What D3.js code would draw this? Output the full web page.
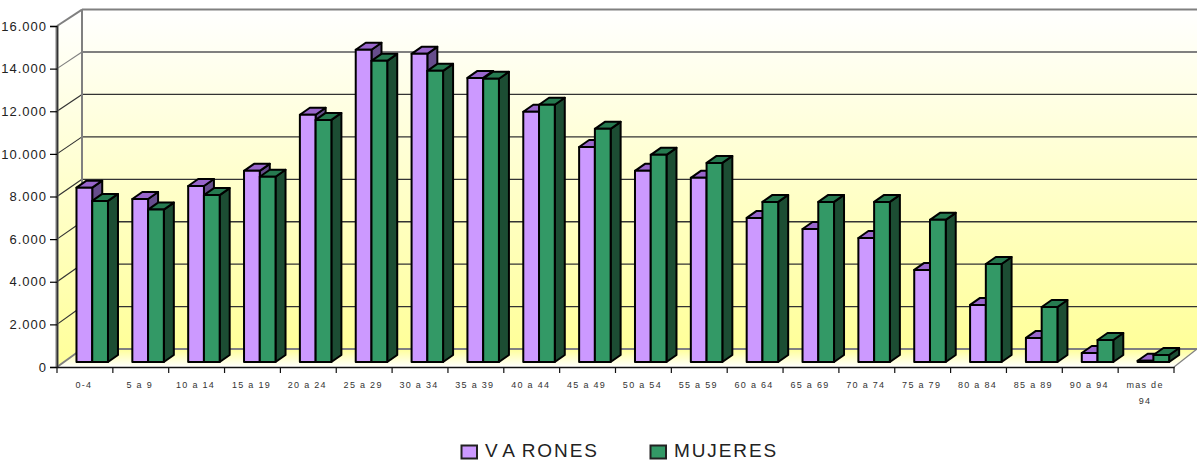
<!DOCTYPE html>
<html><head><meta charset="utf-8">
<script src="https://cdn.jsdelivr.net/npm/d3@7/dist/d3.min.js"></script>
<style>html,body{margin:0;padding:0;background:#fff;overflow:hidden}svg{display:block}
text{font-family:"Liberation Sans",Arial,sans-serif}</style></head><body>
<script>
const categories=["0-4","5 a 9","10 a 14","15 a 19","20 a 24","25 a 29","30 a 34","35 a 39","40 a 44","45 a 49","50 a 54","55 a 59","60 a 64","65 a 69","70 a 74","75 a 79","80 a 84","85 a 89","90 a 94","mas de 94"];
const varones=[8180,7650,8260,8970,11600,14650,14460,13330,11740,10090,8970,8640,6760,6240,5820,4320,2680,1130,420,60];
const mujeres=[7560,7150,7830,8690,11360,14130,13660,13290,12070,10940,9720,9340,7510,7510,7510,6670,4600,2580,1030,330];
const seriesNames=["VARONES","MUJERES"];
const yTicks=[0,2000,4000,6000,8000,10000,12000,14000,16000];

const W=1197,H=460;
const x0=57,x1=1174,y0=367,yT=26;
const wallDx=25,backBot=349,backTop=9.6;
const barOy=-5,depthX=10,depthY=-7;
const svg=d3.select("body").append("svg").attr("width",W).attr("height",H);
const defs=svg.append("defs");
const g1=defs.append("linearGradient").attr("id","wall").attr("x1",0).attr("x2",0).attr("y1",0).attr("y2",1);
g1.append("stop").attr("offset",0).attr("stop-color","#ffffff");
g1.append("stop").attr("offset",1).attr("stop-color","#ffff99");
const g2=defs.append("linearGradient").attr("id","floor").attr("x1",0).attr("x2",0).attr("y1",0).attr("y2",1);
g2.append("stop").attr("offset",0).attr("stop-color","#ffff99");
g2.append("stop").attr("offset",1).attr("stop-color","#ffffff");

const y=d3.scaleLinear().domain([0,16000]).range([y0,yT]);
const yBack=d3.scaleLinear().domain([0,16000]).range([backBot,backTop]);
const x=d3.scaleBand().domain(categories).range([x0,x1]).paddingInner(0.436).paddingOuter(0.218).align(0.8);
const xTick=d3.scaleBand().domain(categories).range([x0,x1]);
const xs=d3.scaleBand().domain(seriesNames).range([0,x.bandwidth()]);
const colors={VARONES:{f:"#cc99ff",t:"#9966cc",s:"#664d8c"},MUJERES:{f:"#339966",t:"#267a50",s:"#1c4d33"}};
const pts=a=>a.map(p=>p.join(",")).join(" ");

// walls
svg.append("polygon").attr("points",pts([[x0,yT],[x0+wallDx,backTop],[x0+wallDx,backBot],[x0,y0]])).attr("fill","url(#wall)");
svg.append("rect").attr("x",x0+wallDx).attr("y",backTop).attr("width",W-x0-wallDx).attr("height",backBot-backTop).attr("fill","url(#wall)");
svg.append("polygon").attr("points",pts([[x0,y0],[x0+wallDx,backBot],[W,backBot],[x1,y0]])).attr("fill","url(#floor)");

// grid
yTicks.forEach(v=>{
  const c=v>=14000||v===0?"#808080":"#333";
  svg.append("line").attr("x1",x0).attr("y1",y(v)).attr("x2",x0+wallDx).attr("y2",yBack(v)).attr("stroke",c).attr("stroke-width",v===16000||v===0?2:1.2);
  svg.append("line").attr("x1",x0+wallDx).attr("y1",yBack(v)).attr("x2",W).attr("y2",yBack(v)).attr("stroke",c).attr("stroke-width",v===16000||v===14000||v===0?2:1.3);
});
svg.append("line").attr("x1",x0+wallDx).attr("x2",x0+wallDx).attr("y1",backTop).attr("y2",backBot).attr("stroke","#808080").attr("stroke-width",2);
svg.append("line").attr("x1",x1).attr("y1",y0).attr("x2",W).attr("y2",backBot).attr("stroke","#808080").attr("stroke-width",1.3);
svg.append("line").attr("x1",x0).attr("y1",yT).attr("x2",x0).attr("y2",y0).attr("stroke","#808080").attr("stroke-width",3);

// bars
const rows=seriesNames.map((n,i)=>({n,vals:i?mujeres:varones}));
categories.forEach((c,ci)=>{
  rows.forEach(r=>{
    const v=r.vals[ci], col=colors[r.n];
    const xa=x(c)+xs(r.n), w=xs.bandwidth(), b=y0+barOy, t=y(v)+barOy;
    const g=svg.append("g").attr("stroke","#000").attr("stroke-width",2).attr("stroke-linejoin","round");
    g.append("polygon").attr("points",pts([[xa+w,b],[xa+w+depthX,b+depthY],[xa+w+depthX,t+depthY],[xa+w,t]])).attr("fill",col.s);
    g.append("polygon").attr("points",pts([[xa,t],[xa+depthX,t+depthY],[xa+w+depthX,t+depthY],[xa+w,t]])).attr("fill",col.t);
    g.append("rect").attr("x",xa).attr("y",t).attr("width",w).attr("height",b-t).attr("fill",col.f);
  });
});

// axes
const loc=d3.formatLocale({decimal:",",thousands:".",grouping:[3],currency:["",""]});
const yAxis=d3.axisLeft(y).tickValues(yTicks).tickFormat(loc.format(",")).tickSize(7).tickPadding(3);
const ga=svg.append("g").attr("transform",`translate(${x0},0)`).call(yAxis);
ga.select(".domain").attr("stroke","#333").attr("stroke-width",1.4);
ga.selectAll(".tick line").attr("stroke","#000").attr("stroke-width",1.2);
ga.selectAll("text").attr("font-family",'"Liberation Sans",Arial,sans-serif').attr("font-size",13).attr("letter-spacing",1).attr("fill","#222");

const xAxis=d3.axisBottom(xTick).tickSize(0).tickFormat(()=>"");
const gb=svg.append("g").attr("transform",`translate(0,${y0})`).call(xAxis);
gb.select(".domain").attr("stroke","#111").attr("stroke-width",1.4);
[...categories.map(c=>xTick(c)),x1].forEach(t=>{
  gb.append("line").attr("x1",t).attr("x2",t).attr("y1",0).attr("y2",6).attr("stroke","#111").attr("stroke-width",1.2);
});
categories.forEach(c=>{
  const cx=xTick(c)+xTick.bandwidth()/2-1;
  const lines=c==="mas de 94"?["mas de","94"]:[c];
  lines.forEach((l,i)=>{
    svg.append("text").attr("x",cx).attr("y",388+i*16).attr("text-anchor","middle").attr("font-size",9).attr("letter-spacing",1.3).attr("fill","#333").text(l);
  });
});

// legend
const lx=[461,650];
seriesNames.forEach((n,i)=>{
  svg.append("rect").attr("x",lx[i]+.5).attr("y",445.5).attr("width",15.5).attr("height",13).attr("fill",colors[n].f).attr("stroke","#222").attr("stroke-width",2);
  const t=svg.append("text").attr("x",lx[i]+24).attr("y",457).attr("font-size",19).attr("letter-spacing",1.9).attr("fill","#222");
  if(n==="VARONES"){
    t.append("tspan").text("V");
    t.append("tspan").attr("dx",4).text("A");
    t.append("tspan").attr("dx",5).text("RONES");
  } else t.text(n);
});
</script></body></html>
